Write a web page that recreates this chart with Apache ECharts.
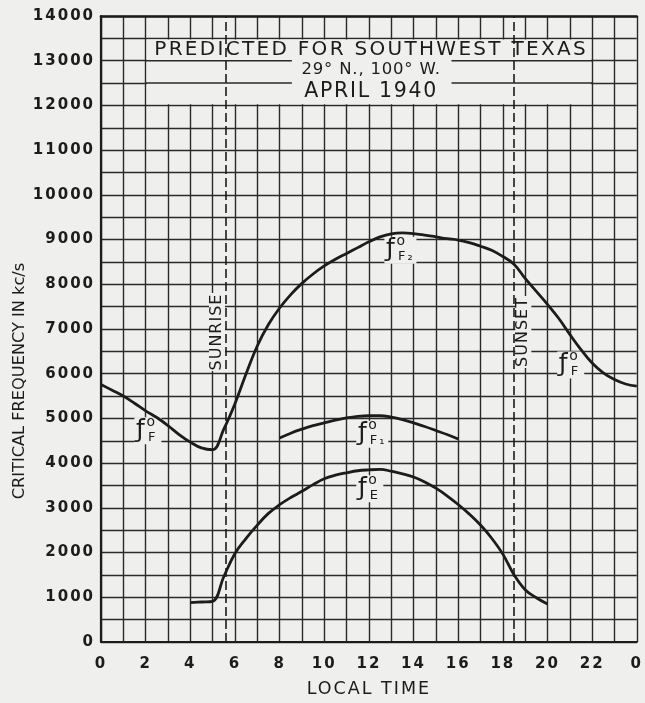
<!DOCTYPE html>
<html><head><meta charset="utf-8">
<script src="https://cdn.jsdelivr.net/npm/echarts@6/dist/echarts.min.js"></script>
<style>html,body{margin:0;padding:0;background:#efefed}#c{width:645px;height:703px}</style>
</head><body><div id="c"></div>
<script>
// ---- data ----
const xTickLabels = ['0','2','4','6','8','10','12','14','16','18','20','22','0'];
const yTickLabels = ['0','1000','2000','3000','4000','5000','6000','7000','8000','9000','10000','11000','12000','13000','14000'];

// foF / foF2 (continuous over the day)
const fHours  = [0,0.5,1,1.5,2,2.5,3,3.5,4,4.5,5,5.5,6,6.5,7,7.5,8,8.5,9,9.5,10,10.5,11,11.5,12,12.5,13,13.5,14,14.5,15,15.5,16,16.5,17,17.5,18,18.5,19,19.5,20,20.5,21,21.5,22,22.5,23,23.5,24];
const fValues = [5760,5630,5500,5340,5170,5020,4840,4640,4470,4340,4300,4760,5330,6000,6620,7100,7470,7770,8020,8230,8410,8560,8690,8820,8950,9060,9130,9150,9135,9100,9060,9020,8990,8930,8850,8760,8620,8450,8130,7840,7550,7240,6880,6540,6240,6020,5870,5770,5720];

// foF1
const f1Hours  = [8,8.5,9,9.5,10,10.5,11,11.5,12,12.5,13,13.5,14,14.5,15,15.5,16];
const f1Values = [4560,4670,4760,4840,4900,4960,5010,5045,5060,5060,5030,4975,4900,4820,4730,4640,4540];

// foE
const eHours  = [4,4.5,5,5.5,6,6.5,7,7.5,8,8.5,9,9.5,10,10.5,11,11.5,12,12.5,13,13.5,14,14.5,15,15.5,16,16.5,17,17.5,18,18.5,19,19.5,20];
const eValues = [880,895,910,1460,1980,2320,2615,2876,3070,3230,3370,3520,3650,3730,3785,3830,3850,3860,3820,3760,3690,3580,3440,3270,3075,2860,2615,2320,1965,1505,1170,990,850];

const sunHours = [5.6, 18.47];
const sunNames = ['SUNRISE', 'SUNSET'];

const curveNames = ['F', 'F\u2082', 'F', 'F\u2081', 'E'];
const titleLines = ['PREDICTED FOR SOUTHWEST TEXAS', '29\u00b0 N., 100\u00b0 W.', 'APRIL 1940'];

// ---- layout (not data) ----
const labelAnchors = [[1.81,4735],[13.01,8773],[20.75,6207],[11.75,4657],[11.75,3438]];
const FONT = 'DejaVu Sans';
const INK = '#1c1c1c';
const BG = '#efefed';

// letter spacing for the wide hand lettering, keyed by font size
const SPACING = {'20': '2.3px', '16.5': '0.8px', '20.5': '1.7px', '17.5': '2px', '16': '1px'};
(function () {
  const P = CanvasRenderingContext2D.prototype, ft = P.fillText;
  P.fillText = function (t, x, y, m) {
    const mm = /([\d.]+)px/.exec(this.font || '');
    const ls = mm && SPACING[mm[1]];
    if (ls && 'letterSpacing' in this) {
      const old = this.letterSpacing; this.letterSpacing = ls;
      m === undefined ? ft.call(this, t, x, y) : ft.call(this, t, x, y, m);
      this.letterSpacing = old;
    } else {
      m === undefined ? ft.call(this, t, x, y) : ft.call(this, t, x, y, m);
    }
  };
})();

const zip = (a, b) => a.map((v, i) => [v, b[i]]);

const chart = echarts.init(document.getElementById('c'), null, {renderer: 'canvas'});
const lineStyle = {color: INK, width: 2.8};
const curve = {type: 'line', smooth: 0.4, showSymbol: false, lineStyle, z: 4};
chart.setOption({
  backgroundColor: BG,
  animation: false,
  grid: {left: 101, right: 5.5, top: 16, bottom: 55},
  xAxis: [{
    type: 'value', min: 0, max: 24, interval: 1,
    axisLine: {show: true, lineStyle: {color: INK, width: 2.2}},
    axisTick: {show: false},
    splitLine: {show: true, lineStyle: {color: '#2a2a2a', width: 1.4}},
    axisLabel: {formatter: v => (v % 2 === 0 ? xTickLabels[v / 2] : ''), margin: 15, fontSize: 15, fontWeight: 'bold', color: INK, fontFamily: FONT},
    name: 'LOCAL TIME', nameLocation: 'middle', nameGap: 38,
    nameTextStyle: {fontSize: 17.5, color: INK, fontFamily: FONT}
  }, {
    type: 'value', min: 0, max: 24, position: 'top',
    axisLine: {show: true, lineStyle: {color: INK, width: 2.6}},
    axisTick: {show: false}, axisLabel: {show: false}, splitLine: {show: false}
  }],
  yAxis: {
    type: 'value', min: 0, max: 14000, interval: 500,
    axisLine: {show: true, lineStyle: {color: INK, width: 2.2}},
    axisTick: {show: false},
    splitLine: {show: true, lineStyle: {color: '#2a2a2a', width: 1.4}},
    axisLabel: {formatter: v => (v % 1000 === 0 ? yTickLabels[v / 1000] : ''), margin: 6, fontSize: 15, fontWeight: 'bold', color: INK, fontFamily: FONT},
    name: 'CRITICAL FREQUENCY IN kc/s', nameLocation: 'middle', nameGap: 73, nameRotate: 90,
    nameTextStyle: {fontSize: 16.2, color: INK, fontFamily: FONT, padding: [0, 104, 0, 0]}
  },
  series: [
    Object.assign({name: 'foF', data: zip(fHours, fValues)}, curve),
    Object.assign({name: 'foF1', data: zip(f1Hours, f1Values)}, curve),
    Object.assign({name: 'foE', data: zip(eHours, eValues)}, curve),
    {name: 'sun', type: 'line', data: [], z: 3,
     markLine: {silent: true, symbol: ['none', 'none'], label: {show: false},
       lineStyle: {type: [9, 4], color: INK, width: 1.6},
       data: sunHours.map(h => ({xAxis: h}))}}
  ]
});

function px(p) { return chart.convertToPixel({gridIndex: 0}, p); }
const g = [];
// title box
const tl = px([2, 13500]), br = px([22, 12000]);
g.push({type: 'rect', z: 1, shape: {x: tl[0] + 1.2, y: tl[1] + 1.2, width: br[0] - tl[0] - 2.4, height: br[1] - tl[1] - 2.4}, style: {fill: BG}});
[13000, 12500].forEach(v => {
  [[2, 8.55], [15.7, 22]].forEach(([a, b]) => {
    const p1 = px([a, v]), p2 = px([b, v]);
    g.push({type: 'line', z: 1, shape: {x1: p1[0], y1: p1[1], x2: p2[0], y2: p2[1]}, style: {stroke: '#2a2a2a', lineWidth: 1.4}});
  });
});
const cx = px([12.1, 0])[0];
const tsz = [20, 16.5, 20.5];
const tys = [13240, 12800, 12300];
titleLines.forEach((t, i) => {
  g.push({type: 'text', z: 5, x: cx, y: px([0, tys[i]])[1], style: {text: t, fontSize: tsz[i], fontFamily: FONT, fill: INK, align: 'center', verticalAlign: 'middle'}});
});
// sunrise / sunset labels
const sunOffsets = [-9, 10];
sunHours.forEach((h, i) => {
  const p = px([h, 7000]);
  g.push({type: 'text', z: 5, x: p[0] + sunOffsets[i], y: 332, rotation: Math.PI / 2,
    style: {text: sunNames[i], fontSize: 16, fontFamily: FONT, fill: INK, align: 'center', verticalAlign: 'middle', backgroundColor: BG, padding: [0, 4]}});
});
// curve labels
labelAnchors.forEach((a, i) => {
  const p = px(a);
  g.push({type: 'rect', z: 1, shape: {x: p[0] - 7, y: p[1] - 13, width: 10 + (curveNames[i].length > 1 ? 22 : 17), height: 27}, style: {fill: BG}});
  g.push({type: 'text', z: 5, x: p[0], y: p[1], style: {text: '\u0192', fontSize: 25, fontFamily: FONT, fill: INK, align: 'center', verticalAlign: 'middle'}});
  g.push({type: 'text', z: 5, x: p[0] + 5, y: p[1] - 8, style: {text: 'o', fontSize: 14, fontFamily: FONT, fill: INK, align: 'left', verticalAlign: 'middle'}});
  g.push({type: 'text', z: 5, x: p[0] + 6.5, y: p[1] + 7, style: {text: curveNames[i], fontSize: 13, fontFamily: FONT, fill: INK, align: 'left', verticalAlign: 'middle'}});
});
chart.setOption({graphic: g});
</script>
</body></html>
